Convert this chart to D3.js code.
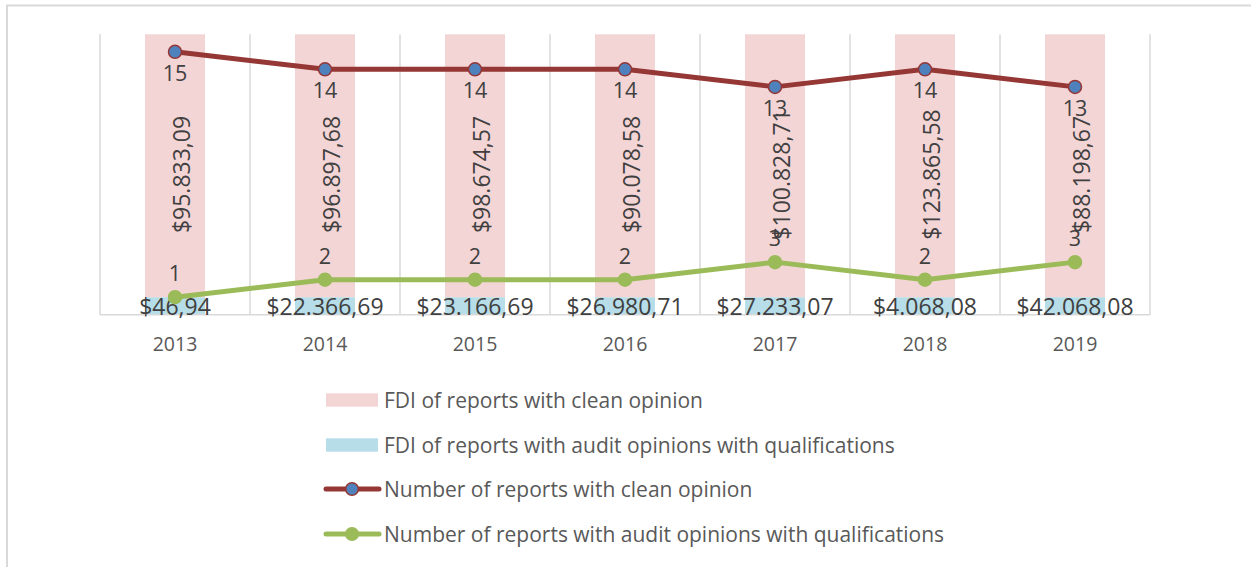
<!DOCTYPE html>
<html>
<head>
<meta charset="utf-8">
<script src="https://cdn.jsdelivr.net/npm/d3@7"></script>
<style>
  body { margin: 0; background: #fff; }
  text { font-family: "Open Sans", Lato, sans-serif; }
</style>
</head>
<body>
<div id="chart"></div>
<script>
// Chart data
var years = ["2013", "2014", "2015", "2016", "2017", "2018", "2019"];
var fdiClean = [95833.09, 96897.68, 98674.57, 90078.58, 100828.71, 123865.58, 88198.67];
var fdiQualified = [46.94, 22366.69, 23166.69, 26980.71, 27233.07, 4068.08, 42068.08];
var fdiCleanLabels = ["$95.833,09", "$96.897,68", "$98.674,57", "$90.078,58", "$100.828,71", "$123.865,58", "$88.198,67"];
var fdiQualLabels = ["$46,94", "$22.366,69", "$23.166,69", "$26.980,71", "$27.233,07", "$4.068,08", "$42.068,08"];
var reportsClean = [15, 14, 14, 14, 13, 14, 13];
var reportsQualified = [1, 2, 2, 2, 3, 2, 3];
var legendNames = ["FDI of reports with clean opinion",
  "FDI of reports with audit opinions with qualifications",
  "Number of reports with clean opinion",
  "Number of reports with audit opinions with qualifications"];

var svgWidth = 1251;
var svgHeight = 567;

var plot = { left: 100, right: 1150, top: 34.3, bottom: 314.7 };

var colors = {
  pink: "#f4d5d6",
  blue: "#b7dde8",
  red: "#953735",
  marker: "#4f81bd",
  green: "#9bbb59",
  grid: "#d9d9d9",
  label: "#404040",
  axis: "#595959"
};

var svg = d3.select("#chart")
  .append("svg")
  .attr("width", svgWidth)
  .attr("height", svgHeight);

// chart border
svg.append("rect")
  .attr("x", 7).attr("y", 5.5)
  .attr("width", 1300).attr("height", 600)
  .attr("fill", "none")
  .attr("stroke", colors.grid)
  .attr("stroke-width", 2);

var x = d3.scaleBand()
  .domain(years)
  .range([plot.left, plot.right]);

// primary axis: number of reports
var y = d3.scaleLinear()
  .domain([0, 16])
  .range([plot.bottom, plot.top]);

// secondary axis: FDI values, clipped to the plot area
var totals = fdiClean.map((v, i) => v + fdiQualified[i]);
var yFdi = d3.scaleLinear()
  .domain([0, d3.min(fdiQualified), d3.max(fdiQualified), d3.min(totals)])
  .range([y(0), y(1), y(1), y(16)])
  .clamp(true);

var barWidth = x.bandwidth() * 0.4;
var cx = d => x(d) + x.bandwidth() / 2;

// vertical gridlines
var gridX = years.map(d => x(d)).concat([plot.right]);
svg.append("g").selectAll("line")
  .data(gridX)
  .enter()
  .append("line")
  .attr("x1", d => d).attr("x2", d => d)
  .attr("y1", plot.top).attr("y2", plot.bottom)
  .attr("stroke", colors.grid)
  .attr("stroke-width", 1.5);

// bars: qualified at bottom, clean stacked on top
var bars = svg.append("g");
bars.selectAll(".qual")
  .data(years)
  .enter()
  .append("rect")
  .attr("x", d => cx(d) - barWidth / 2)
  .attr("width", barWidth)
  .attr("y", (d, i) => yFdi(fdiQualified[i]))
  .attr("height", (d, i) => yFdi(0) - yFdi(fdiQualified[i]))
  .attr("fill", colors.blue);

bars.selectAll(".clean")
  .data(years)
  .enter()
  .append("rect")
  .attr("x", d => cx(d) - barWidth / 2)
  .attr("width", barWidth)
  .attr("y", (d, i) => yFdi(totals[i]))
  .attr("height", (d, i) => yFdi(fdiQualified[i]) - yFdi(totals[i]))
  .attr("fill", colors.pink);

// baseline
svg.append("line")
  .attr("x1", plot.left).attr("x2", plot.right)
  .attr("y1", plot.bottom).attr("y2", plot.bottom)
  .attr("stroke", colors.grid)
  .attr("stroke-width", 1.5);

// x axis labels
svg.append("g").selectAll("text")
  .data(years)
  .enter()
  .append("text")
  .attr("x", d => cx(d))
  .attr("y", 351)
  .attr("text-anchor", "middle")
  .style("font-size", "19.5px")
  .style("fill", colors.axis)
  .text(d => d);

// bar labels
svg.append("g").selectAll("text")
  .data(years)
  .enter()
  .append("text")
  .attr("transform", (d, i) => `translate(${cx(d) + 15}, ${(yFdi(0) + yFdi(totals[i])) / 2}) rotate(-90)`)
  .attr("text-anchor", "middle")
  .style("font-size", "23px")
  .style("fill", colors.label)
  .text((d, i) => fdiCleanLabels[i]);

svg.append("g").selectAll("text")
  .data(years)
  .enter()
  .append("text")
  .attr("x", d => cx(d))
  .attr("y", (d, i) => (yFdi(0) + yFdi(fdiQualified[i])) / 2 + 9)
  .attr("text-anchor", "middle")
  .style("font-size", "23px")
  .style("fill", colors.label)
  .text((d, i) => fdiQualLabels[i]);

// lines
var lineGen = d3.line()
  .x((d, i) => cx(years[i]))
  .y(d => y(d));

function drawSeries(values, lineColor, fill, labelDy) {
  svg.append("path")
    .datum(values)
    .attr("d", lineGen)
    .attr("fill", "none")
    .attr("stroke", lineColor)
    .attr("stroke-width", 5)
    .attr("stroke-linejoin", "round");

  svg.append("g").selectAll("circle")
    .data(values)
    .enter()
    .append("circle")
    .attr("cx", (d, i) => cx(years[i]))
    .attr("cy", d => y(d))
    .attr("r", 6.5)
    .attr("fill", fill)
    .attr("stroke", lineColor)
    .attr("stroke-width", 1.5);

  svg.append("g").selectAll("text")
    .data(values)
    .enter()
    .append("text")
    .attr("x", (d, i) => cx(years[i]))
    .attr("y", d => y(d) + labelDy)
    .attr("text-anchor", "middle")
    .style("font-size", "21.5px")
    .style("fill", colors.label)
    .text(d => d);
}

drawSeries(reportsClean, colors.red, colors.marker, 29);
drawSeries(reportsQualified, colors.green, colors.green, -16);

// legend
var legend = svg.append("g");
var rowY = [400, 445, 489, 534];
legendNames.forEach(function(name, i) {
  var row = legend.append("g").attr("transform", `translate(0, ${rowY[i]})`);
  if (i < 2) {
    row.append("rect")
      .attr("x", 326).attr("y", -6.7)
      .attr("width", 52).attr("height", 13.4)
      .attr("fill", i === 0 ? colors.pink : colors.blue);
  } else {
    var c = i === 2 ? colors.red : colors.green;
    row.append("line")
      .attr("x1", 326).attr("x2", 379)
      .attr("y1", 0).attr("y2", 0)
      .attr("stroke", c)
      .attr("stroke-width", 5)
      .attr("stroke-linecap", "round");
    row.append("circle")
      .attr("cx", 352).attr("cy", 0)
      .attr("r", 6.3)
      .attr("fill", i === 2 ? colors.marker : colors.green)
      .attr("stroke", c)
      .attr("stroke-width", 1.5);
  }
  row.append("text")
    .attr("x", 384)
    .attr("y", 7.5)
    .style("font-size", "21px")
    .style("fill", colors.axis)
    .text(name);
});
</script>
</body>
</html>
